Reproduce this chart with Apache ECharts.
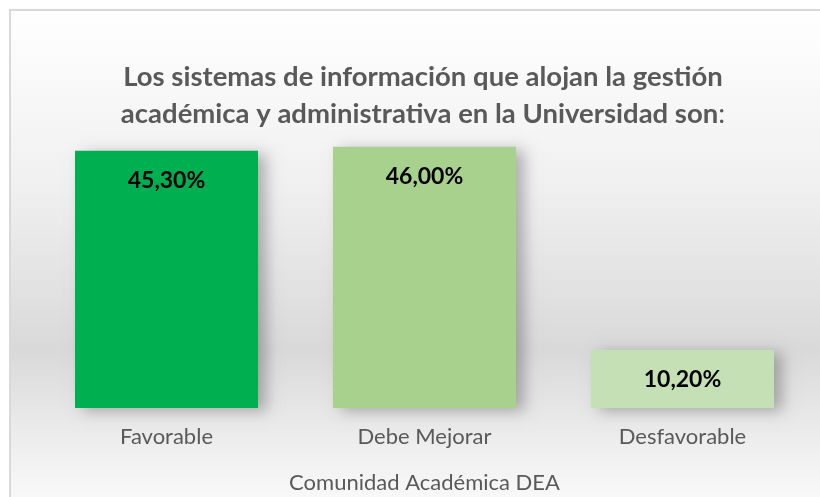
<!DOCTYPE html>
<html>
<head>
<meta charset="utf-8">
<script src="https://cdn.jsdelivr.net/npm/echarts@6/dist/echarts.min.js"></script>
<style>
  html, body { margin: 0; padding: 0; background: #fff; }
  #SurveyChart { width: 820px; height: 497px; }
</style>
</head>
<body>
<div id="SurveyChart"></div>
<script>
// datos de la encuesta
const categories = ["Favorable", "Debe Mejorar", "Desfavorable"];
const values = [45.3, 46.0, 10.2];
const barColors = ["#00b050", "#a9d18e", "#c5e0b4"];
const xAxisName = "Comunidad Académica DEA";

const FONT = "Lato";
const chart = echarts.init(document.getElementById("SurveyChart"));

const option = {
  backgroundColor: "#ffffff",
  graphic: [
    {
      type: "rect",
      z: -10,
      silent: true,
      shape: { x: 10, y: 10, width: 830, height: 500 },
      style: {
        stroke: "#d9d9d9",
        lineWidth: 2,
        fill: new echarts.graphic.LinearGradient(0, 0, 0, 1, [
          { offset: 0, color: "#ffffff" },
          { offset: 0.35, color: "#f0f0f0" },
          { offset: 0.68, color: "#d9d9d9" },
          { offset: 0.85, color: "#ececec" },
          { offset: 1, color: "#fbfbfb" },
        ]),
      },
    },
  ],
  title: {
    text: "{b|Los sistemas de información que alojan la gestión}\n{b|académica y administrativa en la Universidad son}{n|:}",
    left: 423,
    textAlign: "center",
    top: 59,
    padding: 0,
    textStyle: {
      rich: {
        b: { fontFamily: FONT, fontWeight: "bold", fontSize: 27.5, color: "#595959", lineHeight: 37 },
        n: { fontFamily: FONT, fontWeight: "normal", fontSize: 27.5, color: "#595959", lineHeight: 37 },
      },
    },
  },
  grid: {
    left: 37.5,
    right: 8.5,
    top: 124,
    bottom: 89,
    outerBoundsMode: "none",
    containLabel: false,
  },
  xAxis: {
    type: "category",
    data: categories,
    name: xAxisName,
    nameLocation: "middle",
    nameGap: 64,
    nameTextStyle: { fontFamily: FONT, fontSize: 22, color: "#595959" },
    axisLine: { show: false },
    axisTick: { show: false },
    axisLabel: { fontFamily: FONT, fontSize: 22, color: "#595959", margin: 18 },
  },
  yAxis: {
    type: "value",
    min: 0,
    max: 50,
    show: false,
    splitLine: { show: false },
  },
  series: [
    {
      type: "bar",
      barWidth: 183,
      data: values.map((v, i) => ({
        value: v,
        itemStyle: { color: barColors[i] },
      })),
      itemStyle: {
        shadowColor: "rgba(0,0,0,0.28)",
        shadowBlur: 14,
        shadowOffsetX: 8,
        shadowOffsetY: 3,
      },
      label: {
        show: true,
        position: "insideTop",
        distance: 18,
        fontFamily: FONT,
        fontWeight: "bold",
        fontSize: 23,
        color: "#000000",
        formatter: (p) => p.value.toFixed(2).replace(".", ",") + "%",
      },
    },
  ],
};

chart.setOption(option);
</script>
</body>
</html>
